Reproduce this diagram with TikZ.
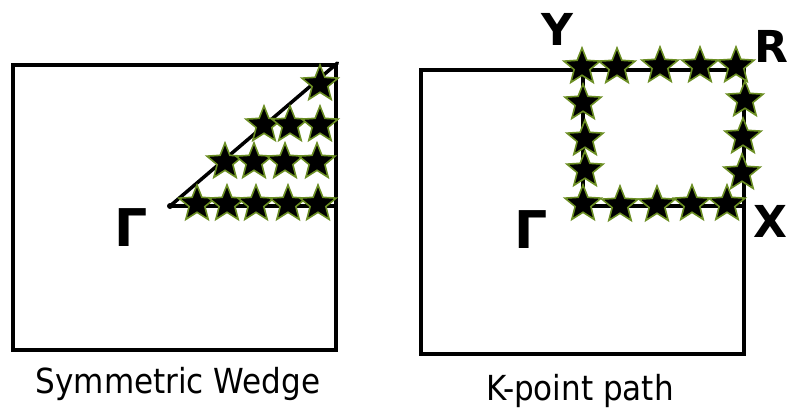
\documentclass[tikz,border=0pt]{standalone}
\usepackage{fontspec}
\setmainfont{DejaVu Sans}
\newfontfamily\condfont{DejaVu Sans Condensed}
\usetikzlibrary{shapes.geometric}
\definecolor{kpoint}{HTML}{6B8E23}

\begin{document}
\begin{tikzpicture}[x=1pt, y=-1pt,
      frame/.style={draw, line width=3.5pt, minimum width=323pt,
                    minimum height=285pt, anchor=north west, inner sep=0pt},
      edge/.style={line width=3.5pt, line cap=round},
      base/.style={line width=4.2pt},
      kstar/.style={star, star points=5, star point ratio=2.3,
                    minimum size=38pt, inner sep=0pt, fill=black,
                    draw=kpoint, line width=1.6pt},
      sym/.style={font=\bfseries\fontsize{44}{44}\selectfont, inner sep=0pt},
      gam/.style={font=\bfseries\fontsize{52}{52}\selectfont, inner sep=0pt},
      caption/.style={font=\condfont\fontsize{34.5}{34.5}\selectfont,
                      inner sep=0pt, anchor=base}
    ]
    \useasboundingbox (0,0) rectangle (788,408);

    % left panel: irreducible wedge
    \node[frame] (wedgebox) at (11,63) {};
    \coordinate (gammaL) at (170,206);
    \draw[edge] (gammaL) -- (wedgebox.north east);
    \draw[base] (gammaL) -- (gammaL -| wedgebox.east);
    \fill (gammaL) circle (3);
    \foreach \x/\y [count=\i] in {197/204, 227/204, 256/204, 288/204, 318/204,
                                  225/162, 254/162, 285/162, 317/162,
                                  264/125, 290/125, 320/125,
                                  320/84}
      \node[kstar] (w\i) at (\x,\y) {};
    \node[gam] (gL) at (131,228) {Γ};
    \node[caption] (capL) at (178,393) {Symmetric Wedge};

    % right panel: path Y - R - X
    \node[frame, minimum height=284pt] (pathbox) at (419,68) {};
    \coordinate (Yc) at (583,68);
    \coordinate (Xc) at (742,206);
    \draw[edge] (Yc) -- (Yc |- Xc);
    \draw[base] (Yc |- Xc) -- (Xc);
    \foreach \x/\y [count=\i] in {582/67, 617/67, 660/66, 700/66, 736/66,
                                  583/103, 585/139, 585/170, 583/204,
                                  620/205, 657/205, 692/204, 727/204,
                                  745/100, 743/137, 742/173}
      \node[kstar] (p\i) at (\x,\y) {};
    \node[gam] (gR) at (531,230) {Γ};
    \node[sym] (lblY) at (557,29) {Y};
    \node[sym] (lblR) at (771,46) {R};
    \node[sym] (lblX) at (770,221) {X};
    \node[caption] (capR) at (580,400) {K-point path};
  \end{tikzpicture}
\end{document}
